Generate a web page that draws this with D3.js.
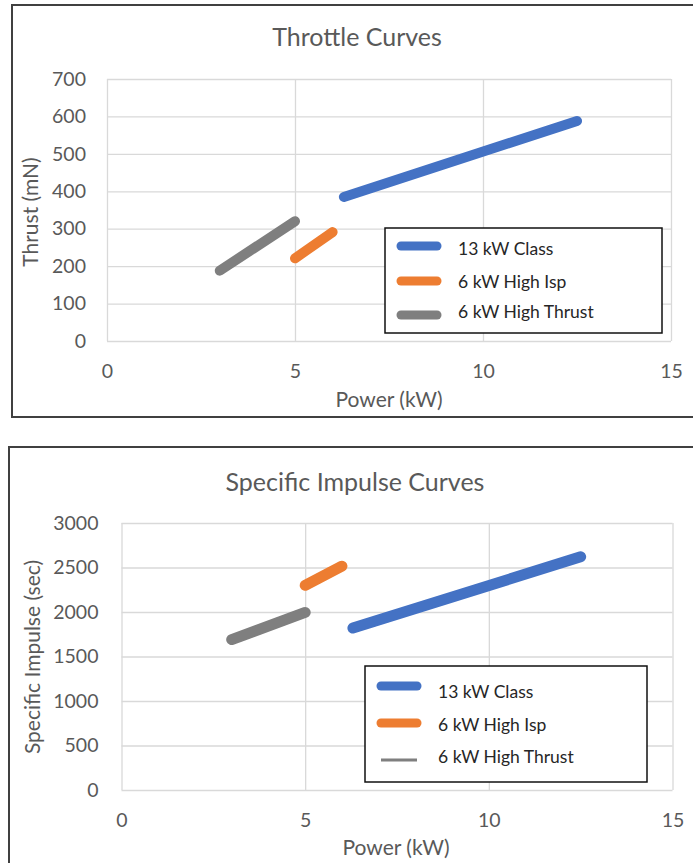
<!DOCTYPE html>
<html>
<head>
<meta charset="utf-8">
<script src="https://cdn.jsdelivr.net/npm/d3@7"></script>
<style>
  body { margin: 0; background: #fff; }
  svg { display: block; }
  text { font-family: Lato, "Open Sans", sans-serif; }
</style>
</head>
<body>
<script>
// series
const seriesNames = ["13 kW Class", "6 kW High Isp", "6 kW High Thrust"];
const seriesColors = ["#4472C4", "#ED7D31", "#7F7F7F"];

// power (kW) at each end of the curves
const classPower = [6.3, 12.5];
const highIspPower = [5, 6];
const highThrustPower = [3, 5];

// thrust (mN)
const classThrust = [385, 588];
const highIspThrust = [221, 291];
const highThrustThrust = [188, 320];

// specific impulse (sec)
const classIsp = [1820, 2620];
const highIspIsp = [2300, 2515];
const highThrustIsp = [1690, 1995];

// ticks
const powerTicks = [0, 5, 10, 15];
const thrustTicks = [0, 100, 200, 300, 400, 500, 600, 700];
const ispTicks = [0, 500, 1000, 1500, 2000, 2500, 3000];

const width = 693;
const height = 863;

let svg = d3.select("body")
    .append("svg")
    .attr("width", width)
    .attr("height", height);

function zip(xs, ys) {
    return xs.map(function (x, i) { return [x, ys[i]]; });
}

function drawChart(opt) {
    let g = svg.append("g");

    // outer frame (runs off the right / bottom of the picture)
    g.append("rect")
        .attr("x", opt.frame[0])
        .attr("y", opt.frame[1])
        .attr("width", opt.frame[2])
        .attr("height", opt.frame[3])
        .attr("fill", "none")
        .attr("stroke", "#404040")
        .attr("stroke-width", 2);

    let x = d3.scaleLinear().domain([0, 15]).range([opt.plot.left, opt.plot.right]);
    let y = d3.scaleLinear().domain([0, opt.yTicks[opt.yTicks.length - 1]])
        .range([opt.plot.bottom, opt.plot.top]);

    // axes, with ticks stretched out as gridlines
    let xAxis = g.append("g")
        .attr("transform", "translate(0," + opt.plot.bottom + ")")
        .call(d3.axisBottom(x)
            .tickValues(powerTicks)
            .tickFormat(d3.format("d"))
            .tickSize(-(opt.plot.bottom - opt.plot.top))
            .tickPadding(opt.xPad));

    let yAxis = g.append("g")
        .attr("transform", "translate(" + opt.plot.left + ",0)")
        .call(d3.axisLeft(y)
            .tickValues(opt.yTicks)
            .tickFormat(d3.format("d"))
            .tickSize(-(opt.plot.right - opt.plot.left))
            .tickPadding(opt.yPad));

    [xAxis, yAxis].forEach(function (a) {
        a.select(".domain").remove();
        a.selectAll("line")
            .attr("stroke", "#d9d9d9")
            .attr("stroke-width", 1.3);
        a.selectAll("text")
            .attr("fill", "#595959")
            .style("font-size", "19.5px");
    });

    // title
    g.append("text")
        .attr("x", opt.title[1])
        .attr("y", opt.title[2])
        .attr("dy", "0.35em")
        .attr("text-anchor", "middle")
        .attr("fill", "#595959")
        .style("font-size", "25px")
        .text(opt.title[0]);

    // axis titles
    g.append("text")
        .attr("x", opt.xTitle[1])
        .attr("y", opt.xTitle[2])
        .attr("dy", "0.35em")
        .attr("text-anchor", "middle")
        .attr("fill", "#595959")
        .style("font-size", "21px")
        .text(opt.xTitle[0]);

    g.append("text")
        .attr("transform", "translate(" + opt.yTitle[1] + "," + opt.yTitle[2] + ") rotate(-90)")
        .attr("dy", "0.35em")
        .attr("text-anchor", "middle")
        .attr("fill", "#595959")
        .style("font-size", "21px")
        .text(opt.yTitle[0]);

    // the curves
    let line = d3.line()
        .x(function (d) { return x(d[0]); })
        .y(function (d) { return y(d[1]); });

    g.selectAll(".curve")
        .data(opt.series)
        .enter()
        .append("path")
        .attr("class", "curve")
        .attr("d", function (d) { return line(d); })
        .attr("fill", "none")
        .attr("stroke", function (d, i) { return seriesColors[i]; })
        .attr("stroke-width", opt.lineWidth)
        .attr("stroke-linecap", "round");

    // legend
    let lg = opt.legend;
    g.append("rect")
        .attr("x", lg.x)
        .attr("y", lg.y)
        .attr("width", lg.w)
        .attr("height", lg.h)
        .attr("fill", "#fff")
        .attr("stroke", "#111")
        .attr("stroke-width", 1.5);

    let item = g.selectAll(".legend-item")
        .data(seriesNames)
        .enter()
        .append("g")
        .attr("class", "legend-item");

    item.append("line")
        .attr("x1", lg.lineX[0])
        .attr("x2", lg.lineX[1])
        .attr("y1", function (d, i) { return lg.lineY[i]; })
        .attr("y2", function (d, i) { return lg.lineY[i]; })
        .attr("stroke", function (d, i) { return seriesColors[i]; })
        .attr("stroke-width", function (d, i) { return lg.lineW[i]; })
        .attr("stroke-linecap", function (d, i) { return lg.lineW[i] > 4 ? "round" : "butt"; });

    item.append("text")
        .attr("x", lg.textX)
        .attr("y", function (d, i) { return lg.textY[i]; })
        .attr("dy", "0.35em")
        .attr("fill", "#262626")
        .style("font-size", "17.5px")
        .text(function (d) { return d; });
}

drawChart({
    frame: [12, 5, 700, 412],
    plot: { left: 107, right: 671, top: 79, bottom: 341 },
    yTicks: thrustTicks,
    xPad: 23,
    yPad: 21,
    title: ["Throttle Curves", 357, 37],
    xTitle: ["Power (kW)", 389, 400],
    yTitle: ["Thrust (mN)", 31, 212],
    lineWidth: 10,
    series: [zip(classPower, classThrust), zip(highIspPower, highIspThrust), zip(highThrustPower, highThrustThrust)],
    legend: {
        x: 385, y: 228, w: 277, h: 105,
        lineX: [401, 437], lineY: [246, 281, 315], lineW: [9, 9, 9],
        textX: 458, textY: [249, 282, 312]
    }
});

drawChart({
    frame: [9, 447, 700, 430],
    plot: { left: 121.5, right: 672.5, top: 523, bottom: 790 },
    yTicks: ispTicks,
    xPad: 23,
    yPad: 23,
    title: ["Specific Impulse Curves", 355, 482],
    xTitle: ["Power (kW)", 396, 848],
    yTitle: ["Specific Impulse (sec)", 33, 657],
    lineWidth: 11,
    series: [zip(classPower, classIsp), zip(highIspPower, highIspIsp), zip(highThrustPower, highThrustIsp)],
    legend: {
        x: 365, y: 666, w: 282, h: 116,
        lineX: [381, 417], lineY: [686, 723, 760], lineW: [9, 9, 3],
        textX: 438, textY: [692, 725, 757]
    }
});
</script>
</body>
</html>
